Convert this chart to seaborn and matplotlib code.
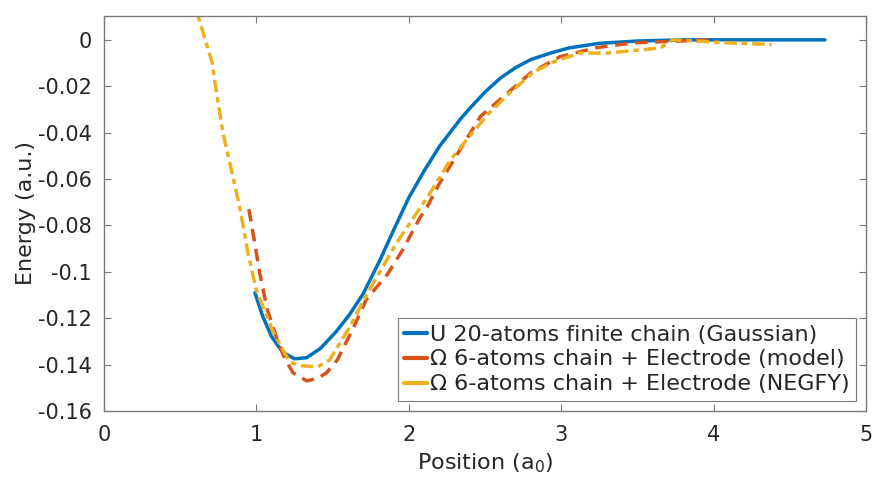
import matplotlib
matplotlib.use("Agg")
import matplotlib.pyplot as plt
import seaborn as sns
import pandas as pd

# Gaussian reference: 20-atom finite chain
x_gauss = [0.99, 1.04, 1.10, 1.17, 1.25, 1.33, 1.42, 1.52, 1.61, 1.70, 1.81, 1.90, 2.00,
           2.10, 2.20, 2.27, 2.34, 2.40, 2.50, 2.60, 2.70, 2.80, 2.93, 3.05, 3.25, 3.50,
           3.80, 4.20, 4.73]
e_gauss = [-0.109, -0.119, -0.128, -0.1345, -0.1375, -0.137, -0.133, -0.126, -0.1185, -0.1095,
           -0.095, -0.082, -0.068, -0.0565, -0.046, -0.040, -0.034, -0.0295, -0.0225, -0.0165,
           -0.0120, -0.0085, -0.0057, -0.0035, -0.0015, -0.0005, 0.0, 0.0, 0.0]

# Model: 6-atom chain + electrode
x_model = [0.95, 0.99, 1.02, 1.07, 1.135, 1.19, 1.24, 1.33, 1.40, 1.46, 1.53, 1.63, 1.72,
           1.86, 1.96, 2.07, 2.12, 2.20, 2.33, 2.47, 2.62, 2.80, 2.99, 3.23, 3.47, 3.98]
e_model = [-0.073, -0.088, -0.100, -0.116, -0.129, -0.138, -0.1435, -0.147, -0.146, -0.1435,
           -0.138, -0.125, -0.112, -0.101, -0.0905, -0.077, -0.072, -0.062, -0.048, -0.033,
           -0.0245, -0.0142, -0.0073, -0.0034, -0.0013, 0.0]

# NEGFY: 6-atom chain + electrode
x_negfy = [0.60, 0.617, 0.71, 0.728, 0.78, 0.84, 0.89, 0.945, 1.00, 1.11, 1.22, 1.30, 1.40,
           1.48, 1.61, 1.73, 1.92, 2.14, 2.27, 2.38, 2.52, 2.66, 2.82, 2.95, 3.12, 3.30,
           3.65, 3.73, 3.96, 4.09, 4.38]
e_negfy = [0.018, 0.0103, -0.0099, -0.0185, -0.040, -0.0573, -0.072, -0.092, -0.108, -0.126,
           -0.139, -0.1405, -0.141, -0.138, -0.124, -0.109, -0.0875, -0.066, -0.052, -0.043,
           -0.032, -0.023, -0.0138, -0.0095, -0.0057, -0.0057, -0.0035, 0.0, -0.0008,
           -0.0013, -0.002]

labels = ["U 20-atoms finite chain (Gaussian)",
          "\u03a9 6-atoms chain + Electrode (model)",
          "\u03a9 6-atoms chain + Electrode (NEGFY)"]
colors = ["#0072BD", "#D95319", "#EDB120"]

sns.set_theme(style="white")
plt.rcParams["font.family"] = ["DejaVu Sans"]

fig = plt.figure(figsize=(8.77, 4.83), dpi=100)
ax = fig.add_axes([0.1186, 0.149, 0.869, 0.818])

frames = [
    pd.DataFrame({"x": x_gauss, "y": e_gauss}),
    pd.DataFrame({"x": x_model, "y": e_model}),
    pd.DataFrame({"x": x_negfy, "y": e_negfy}),
]
styles = ["-", (0, (3.6, 2.2)), (0, (3.6, 1.4, 1.6, 1.4))]

for df, lab, col, ls in zip(frames, labels, colors, styles):
    sns.lineplot(data=df, x="x", y="y", ax=ax, color=col, linestyle=ls,
                 linewidth=2.5, label=lab, sort=False, estimator=None)

ax.set_xlim(0, 5)
ax.set_ylim(-0.16, 0.0103)
ax.set_xticks([0, 1, 2, 3, 4, 5])
ax.set_xticklabels(["0", "1", "2", "3", "4", "5"])
yt = [-0.16, -0.14, -0.12, -0.1, -0.08, -0.06, -0.04, -0.02, 0]
ax.set_yticks(yt)
ax.set_yticklabels(["-0.16", "-0.14", "-0.12", "-0.1", "-0.08", "-0.06", "-0.04", "-0.02", "0"])

ax.set_xlabel("Position (a$_0$)", fontsize=16, color="#262626", labelpad=5)
ax.set_ylabel("Energy (a.u.)", fontsize=16, color="#262626", labelpad=1)

for s in ax.spines.values():
    s.set_visible(True)
    s.set_color("#7a7a7a")
    s.set_linewidth(1.0)
ax.tick_params(direction="in", length=5, width=0.8, colors="#7a7a7a",
               labelcolor="#262626", labelsize=15, top=True, right=True,
               bottom=True, left=True)
ax.tick_params(axis="x", pad=10)
ax.tick_params(axis="y", pad=9)

leg = ax.legend(loc="lower right", fontsize=16, frameon=True, fancybox=False,
                handlelength=1.0, handletextpad=0.15, borderpad=0.3,
                labelspacing=0.22, borderaxespad=0.45, edgecolor="#7a7a7a",
                framealpha=1)
leg.get_frame().set_linewidth(0.8)
for line in leg.get_lines():
    line.set_linestyle("-")
    line.set_linewidth(3)

fig.savefig("out.png", dpi=100)
